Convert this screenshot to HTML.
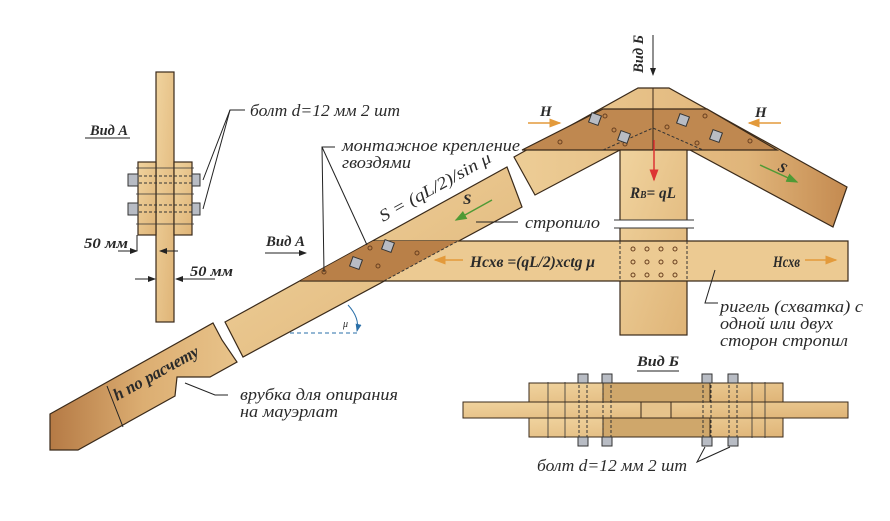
<!DOCTYPE html>
<html><head><meta charset="utf-8"><style>
html,body{margin:0;padding:0;background:#fff}
svg{display:block}
text{font-family:"Liberation Serif",serif;font-style:italic;fill:#2a2a2a}
</style></head><body>
<svg width="890" height="521" viewBox="0 0 890 521" xmlns="http://www.w3.org/2000/svg">
<defs>
<linearGradient id="w" x1="0" y1="0" x2="1" y2="1"><stop offset="0" stop-color="#f0d39e"/><stop offset="1" stop-color="#dfb477"/></linearGradient>
<linearGradient id="wd" x1="0" y1="0" x2="1" y2="0"><stop offset="0" stop-color="#b57a45"/><stop offset="0.5" stop-color="#dcae72"/><stop offset="1" stop-color="#e8c38a"/></linearGradient>
<linearGradient id="wr" x1="0" y1="0" x2="1" y2="0"><stop offset="0" stop-color="#edcd96"/><stop offset="0.7" stop-color="#e0b57a"/><stop offset="1" stop-color="#c48a50"/></linearGradient>
<marker id="ab" markerWidth="8" markerHeight="8" refX="7" refY="4" orient="auto"><path d="M0,1 L8,4 L0,7z" fill="#222"/></marker>
<marker id="ao" markerWidth="8" markerHeight="8" refX="7" refY="4" orient="auto"><path d="M0,1 L8,4 L0,7z" fill="#e39a3b"/></marker>
<marker id="ag" markerWidth="8" markerHeight="8" refX="7" refY="4" orient="auto"><path d="M0,1 L8,4 L0,7z" fill="#4f9a35"/></marker>
<marker id="ar" markerWidth="8" markerHeight="8" refX="7" refY="4" orient="auto"><path d="M0,1 L8,4 L0,7z" fill="#d33"/></marker>
<marker id="au" markerWidth="8" markerHeight="8" refX="7" refY="4" orient="auto"><path d="M0,1 L8,4 L0,7z" fill="#2a6fa8"/></marker>
</defs>
<g stroke="#3a2a1a" stroke-width="1.2">
<rect x="156" y="72" width="18" height="250" fill="url(#w)"/>
<rect x="138" y="162" width="18" height="73" fill="url(#w)"/>
<rect x="174" y="162" width="18" height="73" fill="url(#w)"/>
</g>
<g stroke="#333" stroke-width="1" stroke-dasharray="3,2" fill="none">
<line x1="134" y1="176" x2="196" y2="176"/><line x1="134" y1="183" x2="196" y2="183"/>
<line x1="134" y1="205" x2="196" y2="205"/><line x1="134" y1="212" x2="196" y2="212"/>
</g>
<g stroke="#333" stroke-width="0.8"><line x1="136" y1="168" x2="194" y2="168"/><line x1="136" y1="194" x2="194" y2="194"/><line x1="136" y1="224" x2="194" y2="224"/></g>
<g fill="#b8bcc4" stroke="#333" stroke-width="1">
<rect x="128" y="174" width="10" height="12"/><rect x="192" y="174" width="8" height="12"/>
<rect x="128" y="203" width="10" height="12"/><rect x="192" y="203" width="8" height="12"/>
</g>
<polygon points="50,414 213,323 222,340 237,362 210,377 177,377 175,396 78,450 50,450" fill="url(#wd)" stroke="#3a2a1a" stroke-width="1.2"/>
<polygon points="225,322 507,167 522,207 243,357" fill="url(#w)" stroke="#3a2a1a" stroke-width="1.2"/>
<polygon points="514,157 638,88 669,88 847,187 833,227 690,150 620,150 535,195" fill="url(#wr)" stroke="#3a2a1a" stroke-width="1.2"/>
<polygon points="522,150 603,109 707,109 777,150" fill="#bf8850" stroke="#3a2a1a" stroke-width="1.2"/>
<line x1="653" y1="88" x2="653" y2="150" stroke="#3a2a1a"/>
<polyline points="603,150 653,128 703,150" fill="none" stroke="#333" stroke-dasharray="3,2"/>
<rect x="620" y="150" width="67" height="185" fill="url(#w)" stroke="#3a2a1a" stroke-width="1.2"/>
<rect x="614" y="220" width="80" height="8" fill="#fff"/>
<line x1="614" y1="220" x2="694" y2="220" stroke="#333"/><line x1="614" y1="228" x2="694" y2="228" stroke="#333"/>
<polygon points="300,281 373,241 848,241 848,281" fill="#ecca92" stroke="#3a2a1a" stroke-width="1.2"/>
<polygon points="300,281 373,241 458,241 384,281" fill="#b98048"/>
<line x1="384" y1="281" x2="458" y2="241" stroke="#333" stroke-dasharray="3,2"/>
<line x1="300" y1="281" x2="848" y2="281" stroke="#3a2a1a"/>
<line x1="620" y1="241" x2="620" y2="281" stroke="#333" stroke-dasharray="3,2"/>
<line x1="687" y1="241" x2="687" y2="281" stroke="#333" stroke-dasharray="3,2"/>
<g fill="none" stroke="#6a4020" stroke-width="1">
<circle cx="633" cy="249" r="2"/><circle cx="647" cy="249" r="2"/><circle cx="661" cy="249" r="2"/><circle cx="675" cy="249" r="2"/>
<circle cx="633" cy="262" r="2"/><circle cx="647" cy="262" r="2"/><circle cx="661" cy="262" r="2"/><circle cx="675" cy="262" r="2"/>
<circle cx="633" cy="275" r="2"/><circle cx="647" cy="275" r="2"/><circle cx="661" cy="275" r="2"/><circle cx="675" cy="275" r="2"/>
<circle cx="324" cy="272" r="2"/><circle cx="370" cy="248" r="2"/><circle cx="378" cy="266" r="2"/><circle cx="417" cy="253" r="2"/>
<circle cx="605" cy="116" r="2"/><circle cx="560" cy="142" r="2"/><circle cx="614" cy="130" r="2"/><circle cx="625" cy="144" r="2"/>
<circle cx="667" cy="127" r="2"/><circle cx="705" cy="116" r="2"/><circle cx="697" cy="143" r="2"/><circle cx="750" cy="141" r="2"/>
</g>
<g fill="#b8bcc4" stroke="#333" stroke-width="1">
<rect x="351" y="258" width="10" height="10" transform="rotate(20 356 263)"/><rect x="383" y="241" width="10" height="10" transform="rotate(20 388 246)"/>
<rect x="590" y="114" width="10" height="10" transform="rotate(20 595 119)"/><rect x="619" y="132" width="10" height="10" transform="rotate(20 624 137)"/>
<rect x="678" y="115" width="10" height="10" transform="rotate(20 683 120)"/><rect x="711" y="131" width="10" height="10" transform="rotate(20 716 136)"/>
</g>
<rect x="463" y="402" width="385" height="16" fill="url(#w)" stroke="#3a2a1a"/>
<rect x="529" y="383" width="254" height="19" fill="url(#w)" stroke="#3a2a1a"/>
<rect x="529" y="418" width="254" height="19" fill="url(#w)" stroke="#3a2a1a"/>
<rect x="603" y="383" width="107" height="19" fill="#cfa76b" stroke="#3a2a1a"/>
<rect x="603" y="418" width="107" height="19" fill="#cfa76b" stroke="#3a2a1a"/>
<rect x="641" y="402" width="30" height="16" fill="#e6c38c" stroke="#3a2a1a"/>
<g stroke="#333" stroke-dasharray="3,2"><line x1="579" y1="380" x2="579" y2="440"/><line x1="587" y1="380" x2="587" y2="440"/><line x1="603" y1="380" x2="603" y2="440"/><line x1="611" y1="380" x2="611" y2="440"/><line x1="703" y1="380" x2="703" y2="440"/><line x1="711" y1="380" x2="711" y2="440"/><line x1="729" y1="380" x2="729" y2="440"/><line x1="737" y1="380" x2="737" y2="440"/></g>
<g stroke="#333" stroke-width="0.8"><line x1="548" y1="382" x2="548" y2="438"/><line x1="565" y1="382" x2="565" y2="438"/><line x1="752" y1="382" x2="752" y2="438"/><line x1="765" y1="382" x2="765" y2="438"/></g>
<g fill="#b8bcc4" stroke="#333"><rect x="578" y="374" width="10" height="9"/><rect x="602" y="374" width="10" height="9"/><rect x="702" y="374" width="10" height="9"/><rect x="728" y="374" width="10" height="9"/><rect x="578" y="437" width="10" height="9"/><rect x="602" y="437" width="10" height="9"/><rect x="702" y="437" width="10" height="9"/><rect x="728" y="437" width="10" height="9"/></g>
<g stroke="#222" fill="none" stroke-width="1">
<polyline points="245,110 230,110 203,180"/><line x1="230" y1="110" x2="203" y2="209"/>
<line x1="85" y1="138" x2="130" y2="138"/>
<line x1="137" y1="235" x2="137" y2="251"/><line x1="118" y1="251" x2="137" y2="251" marker-end="url(#ab)"/>
<line x1="178" y1="251" x2="160" y2="251" marker-end="url(#ab)"/>
<line x1="135" y1="279" x2="155" y2="279" marker-end="url(#ab)"/><line x1="215" y1="279" x2="176" y2="279" marker-end="url(#ab)"/>
<polyline points="335,147 322,147 324,272"/><line x1="322" y1="147" x2="367" y2="245"/>
<line x1="265" y1="253" x2="306" y2="253" marker-end="url(#ab)"/>
<line x1="653" y1="35" x2="653" y2="75" marker-end="url(#ab)"/>
<line x1="476" y1="222" x2="518" y2="222"/>
<polyline points="715,270 705,303 718,303"/>
<polyline points="185,383 215,395 228,395"/>
<line x1="637" y1="371" x2="679" y2="371"/>
<polyline points="705,447 697,462 730,447"/>
<line x1="107" y1="386" x2="123" y2="427"/>
</g>
<line x1="290" y1="333" x2="360" y2="333" stroke="#2a6fa8" stroke-dasharray="4,3"/>
<path d="M348,305 Q360,318 357,331" stroke="#2a6fa8" fill="none" marker-end="url(#au)"/>
<line x1="528" y1="123" x2="560" y2="123" stroke="#e39a3b" stroke-width="1.5" marker-end="url(#ao)"/>
<line x1="781" y1="123" x2="749" y2="123" stroke="#e39a3b" stroke-width="1.5" marker-end="url(#ao)"/>
<line x1="463" y1="260" x2="435" y2="260" stroke="#e39a3b" stroke-width="1.5" marker-end="url(#ao)"/>
<line x1="805" y1="260" x2="836" y2="260" stroke="#e39a3b" stroke-width="1.5" marker-end="url(#ao)"/>
<line x1="760" y1="165" x2="797" y2="182" stroke="#4f9a35" stroke-width="1.5" marker-end="url(#ag)"/>
<line x1="492" y1="200" x2="456" y2="220" stroke="#4f9a35" stroke-width="1.5" marker-end="url(#ag)"/>
<line x1="654" y1="140" x2="654" y2="180" stroke="#d33" stroke-width="1.5" marker-end="url(#ar)"/>
<text x="250" y="116" font-size="17" textLength="150" lengthAdjust="spacingAndGlyphs">болт d=12 мм 2 шт</text>
<text x="90" y="135" font-size="15" font-weight="bold" textLength="38" lengthAdjust="spacingAndGlyphs">Вид А</text>
<text x="84" y="248" font-size="15" font-weight="bold" textLength="44" lengthAdjust="spacingAndGlyphs">50 мм</text>
<text x="190" y="276" font-size="15" font-weight="bold" textLength="43" lengthAdjust="spacingAndGlyphs">50 мм</text>
<text x="342" y="151" font-size="17" textLength="178" lengthAdjust="spacingAndGlyphs">монтажное крепление</text>
<text x="342" y="168" font-size="17" textLength="69" lengthAdjust="spacingAndGlyphs">гвоздями</text>
<text x="266" y="246" font-size="15" font-weight="bold" textLength="39" lengthAdjust="spacingAndGlyphs">Вид А</text>
<text x="383" y="222" font-size="17" transform="rotate(-29 383 222)" textLength="125" lengthAdjust="spacingAndGlyphs">S = (qL/2)/sin μ</text>
<text x="463" y="204" font-size="15" font-weight="bold">S</text>
<text x="525" y="228" font-size="17" textLength="75" lengthAdjust="spacingAndGlyphs">стропило</text>
<text x="470" y="267" font-size="16" font-weight="bold" textLength="125" lengthAdjust="spacingAndGlyphs">Hсхв =(qL/2)xctg μ</text>
<text x="773" y="267" font-size="16" font-weight="bold" textLength="27" lengthAdjust="spacingAndGlyphs">Hсхв</text>
<text x="720" y="312" font-size="17" textLength="143" lengthAdjust="spacingAndGlyphs">ригель (схватка) с</text>
<text x="720" y="329" font-size="17" textLength="113" lengthAdjust="spacingAndGlyphs">одной или двух</text>
<text x="720" y="346" font-size="17" textLength="128" lengthAdjust="spacingAndGlyphs">сторон стропил</text>
<text x="540" y="116" font-size="15" font-weight="bold">H</text>
<text x="755" y="117" font-size="15" font-weight="bold">H</text>
<text x="777" y="170" font-size="14" font-weight="bold" transform="rotate(28 777 170)">S</text>
<text x="630" y="198" font-size="16" font-weight="bold" textLength="46" lengthAdjust="spacingAndGlyphs">R<tspan font-size="10">B</tspan>= qL</text>
<text x="643" y="73" font-size="15" font-weight="bold" transform="rotate(-90 643 73)" textLength="38" lengthAdjust="spacingAndGlyphs">Вид Б</text>
<text x="637" y="366" font-size="15" font-weight="bold" textLength="42" lengthAdjust="spacingAndGlyphs">Вид Б</text>
<text x="537" y="471" font-size="17" textLength="150" lengthAdjust="spacingAndGlyphs">болт d=12 мм 2 шт</text>
<text x="240" y="400" font-size="17" textLength="158" lengthAdjust="spacingAndGlyphs">врубка для опирания</text>
<text x="240" y="417" font-size="17" textLength="98" lengthAdjust="spacingAndGlyphs">на мауэрлат</text>
<text x="117" y="401" font-size="17" font-weight="bold" transform="rotate(-29 117 401)" textLength="95" lengthAdjust="spacingAndGlyphs">h по расчету</text>
<text x="343" y="327" font-size="10" fill="#2a6fa8">μ</text>
</svg>
</body></html>
